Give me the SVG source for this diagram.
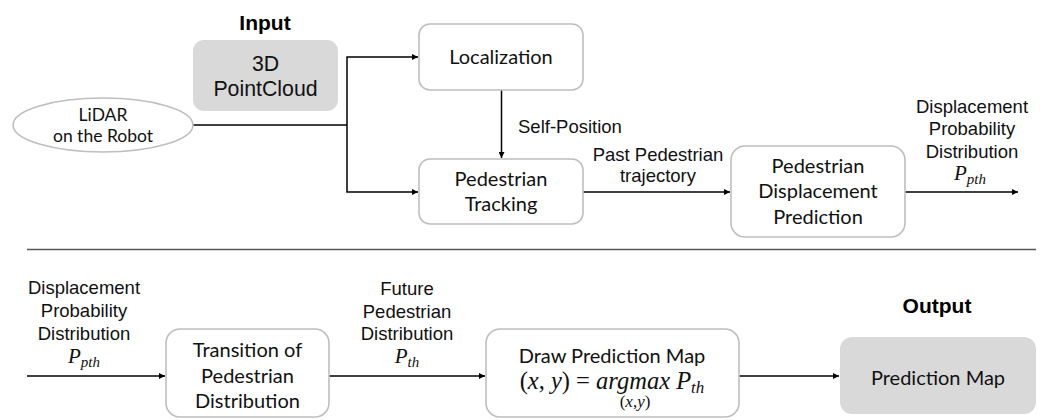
<svg xmlns="http://www.w3.org/2000/svg" width="1042" height="420" viewBox="0 0 1042 420">
<style>
.box{fill:#fff;stroke:#bfbfbf;stroke-width:1.6}
.grey{fill:#d9d9d9;stroke:none}
.cal{font-family:Lato,"Open Sans",sans-serif;font-size:20px;fill:#111;text-anchor:middle}
.ar{font-family:"Liberation Sans",Arial,sans-serif;font-size:18.5px;fill:#111;text-anchor:middle}
.bold{font-family:"Liberation Sans",Arial,sans-serif;font-size:21px;font-weight:bold;fill:#000;text-anchor:middle}
.math{font-family:"Liberation Serif","DejaVu Serif",serif;font-style:italic;fill:#111}
.conn{fill:none;stroke:#000;stroke-width:1.5}
</style>
<defs>
<marker id="arr" markerUnits="userSpaceOnUse" markerWidth="7" markerHeight="6" refX="6" refY="3" orient="auto">
<path d="M0,0 L6,3 L0,6 z" fill="#000"/>
</marker>
</defs>

<line x1="27" y1="249.5" x2="1036" y2="249.5" stroke="#595959" stroke-width="1.6"/>

<g id="connectors">
<path class="conn" d="M193,125 H347"/>
<path class="conn" d="M347,125 V57 H418" marker-end="url(#arr)"/>
<path class="conn" d="M347,125 V192 H418" marker-end="url(#arr)"/>
<path class="conn" d="M501.5,90 V158" marker-end="url(#arr)"/>
<path class="conn" d="M583,192 H730" marker-end="url(#arr)"/>
<path class="conn" d="M905,192 H1018" marker-end="url(#arr)"/>
<path class="conn" d="M27,376 H165" marker-end="url(#arr)"/>
<path class="conn" d="M329,376 H485" marker-end="url(#arr)"/>
<path class="conn" d="M739,376 H839" marker-end="url(#arr)"/>
<text class="ar" x="518" y="133" style="text-anchor:start">Self-Position</text>
<text class="ar" x="658" y="161">Past Pedestrian</text>
<text class="ar" x="658" y="182">trajectory</text>
<text class="ar" x="972" y="113">Displacement</text>
<text class="ar" x="972" y="135">Probability</text>
<text class="ar" x="972" y="158">Distribution</text>
<text class="math" x="970" y="180" font-size="21" text-anchor="middle">P<tspan font-size="15" dy="4">pth</tspan></text>
<text class="ar" x="84" y="294">Displacement</text>
<text class="ar" x="84" y="317">Probability</text>
<text class="ar" x="84" y="340">Distribution</text>
<text class="math" x="84" y="363" font-size="21" text-anchor="middle">P<tspan font-size="15" dy="4">pth</tspan></text>
<text class="ar" x="407" y="295">Future</text>
<text class="ar" x="407" y="318">Pedestrian</text>
<text class="ar" x="407" y="340">Distribution</text>
<text class="math" x="407" y="363" font-size="21" text-anchor="middle">P<tspan font-size="15" dy="4">th</tspan></text>
</g>

<g id="input-label"><text class="bold" x="265" y="30">Input</text></g>

<g id="pointcloud">
<rect class="grey" x="193" y="40" width="145" height="71" rx="11"/>
<text class="ar" x="265.5" y="71" style="font-size:21.3px">3D</text>
<text class="ar" x="265.5" y="96" style="font-size:21.3px">PointCloud</text>
</g>

<g id="lidar">
<ellipse cx="103" cy="125" rx="90" ry="27" fill="#fff" stroke="#bfbfbf" stroke-width="1.6"/>
<text class="cal" x="103" y="121" style="font-size:17.5px">LiDAR</text>
<text class="cal" x="103" y="142" style="font-size:17.5px">on the Robot</text>
</g>

<g id="localization">
<rect class="box" x="419" y="24" width="164" height="66" rx="11"/>
<text class="cal" x="501" y="64">Localization</text>
</g>

<g id="tracking">
<rect class="box" x="419" y="159" width="164" height="65" rx="11"/>
<text class="cal" x="501" y="186">Pedestrian</text>
<text class="cal" x="501" y="211">Tracking</text>
</g>

<g id="displacement-prediction">
<rect class="box" x="731" y="146" width="174" height="91" rx="14"/>
<text class="cal" x="818" y="173">Pedestrian</text>
<text class="cal" x="818" y="198">Displacement</text>
<text class="cal" x="818" y="224">Prediction</text>
</g>

<g id="transition">
<rect class="box" x="166" y="329" width="163" height="88" rx="14"/>
<text class="cal" x="247.5" y="357">Transition of</text>
<text class="cal" x="247.5" y="383">Pedestrian</text>
<text class="cal" x="247.5" y="408">Distribution</text>
</g>

<g id="draw-map">
<rect class="box" x="486" y="329" width="253" height="88" rx="14"/>
<text class="cal" x="612" y="363">Draw Prediction Map</text>
<text x="612" y="389" font-size="24.5" text-anchor="middle" style="font-family:'Liberation Serif','DejaVu Serif',serif;fill:#111">(<tspan font-style="italic">x</tspan>, <tspan font-style="italic">y</tspan>) = <tspan font-style="italic">argmax P</tspan><tspan font-style="italic" font-size="17" dy="4">th</tspan></text>
<text x="635" y="407" font-size="17" text-anchor="middle" style="font-family:'Liberation Serif','DejaVu Serif',serif;fill:#111">(<tspan font-style="italic">x</tspan>,<tspan font-style="italic">y</tspan>)</text>
</g>

<g id="output-label"><text class="bold" x="937" y="313">Output</text></g>

<g id="prediction-map">
<rect class="grey" x="840" y="337" width="196" height="77" rx="12"/>
<text class="cal" x="938" y="385">Prediction Map</text>
</g>
</svg>
